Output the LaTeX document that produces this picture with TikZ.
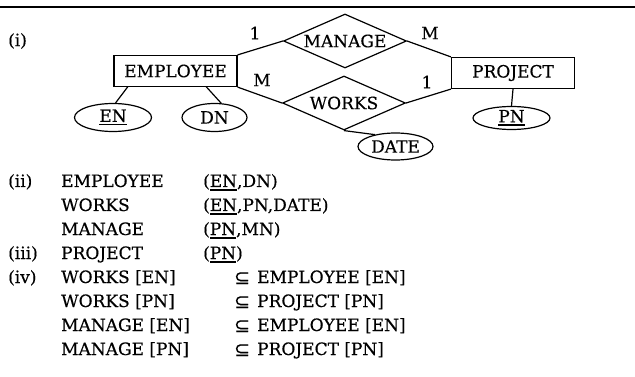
\documentclass[tikz,border=0pt]{standalone}
\usepackage{fontspec}
\setmainfont{DejaVu Serif}[FakeBold=0.4]
\newfontfamily\symf{DejaVu Sans}[FakeBold=0.4]
\usetikzlibrary{shapes.geometric}
\newcommand\uln[1]{\setbox0\hbox{#1}\hbox{\rlap{\rule[-3.6pt]{\wd0}{1.8pt}}\box0}}
\begin{document}
\begin{tikzpicture}[x=1pt,y=-1pt,
  every node/.style={font=\fontsize{17}{20}\selectfont, inner sep=0pt},
  ent/.style={draw, line width=1.2pt, minimum width=123pt, minimum height=31pt},
  rel/.style={draw, diamond, aspect=2.3, line width=1.2pt, minimum width=123pt, minimum height=54pt},
  attr/.style={draw, ellipse, line width=1.2pt, minimum height=28pt},
  conn/.style={line width=1.2pt},
  txt/.style={anchor=base west},
  subs/.style={anchor=base west, font=\fontsize{19}{20}\symf}]
\useasboundingbox (0,0) rectangle (635,377);
\draw[line width=2.4pt] (0,7) -- (635,7);
\node[anchor=west] (li) at (8,41) {(i)};
% entities
\node[ent] (emp) at (175.5,71) {EMPLOYEE};
\node[ent] (proj) at (513,73) {PROJECT};
% relationships
\node[rel] (manage) at (345,41) {MANAGE};
\node[rel] (works) at (344,103) {WORKS};
% attributes
\node[attr, minimum width=77pt] (en) at (113,117.5) {\uln{EN}};
\node[attr, minimum width=65pt] (dn) at (214.5,117.5) {DN};
\node[attr, minimum width=77pt, minimum height=23pt] (pn) at (511.5,118) {\uln{PN}};
\node[attr, minimum width=75pt, minimum height=27pt] (date) at (395.5,146.5) {DATE};
% cardinalities
\node (c1) at (255,33) {1};
\node (c2) at (430,33) {M};
\node (c3) at (262,80) {M};
\node (c4) at (427,82) {1};
% connectors
\draw[conn] (emp.north east) -- (manage.west);
\draw[conn] (manage.east) -- (proj.north west);
\draw[conn] (emp.south east) -- (works.west);
\draw[conn] (works.east) -- (proj.south west);
\draw[conn] (works.south) -- (date.150);
\coordinate (e1) at (128,86.5);
\coordinate (e2) at (206,86.5);
\draw[conn] (e1) -- (en.80);
\draw[conn] (e2) -- (dn.65);
\draw[conn] (proj.south) -- (pn.north);
% relational schema
\node[txt] (r1a) at (8,187) {(ii)};
\node[txt] (r1b) at (61,187) {EMPLOYEE};
\node[txt] (r1c) at (203,187) {(\uln{EN},DN)};
\node[txt] (r2b) at (61,211) {WORKS};
\node[txt] (r2c) at (203,211) {(\uln{EN},PN,DATE)};
\node[txt] (r3b) at (61,235) {MANAGE};
\node[txt] (r3c) at (203,235) {(\uln{PN},MN)};
\node[txt] (r4a) at (8,259) {(iii)};
\node[txt] (r4b) at (61,259) {PROJECT};
\node[txt] (r4c) at (203,259) {(\uln{PN})};
\node[txt] (r5a) at (8,283) {(iv)};
\node[txt] (r5b) at (61,283) {WORKS [EN]};
\node[subs] (r5s) at (234,284) {⊆};
\node[txt] (r5c) at (257,283) {EMPLOYEE [EN]};
\node[txt] (r6b) at (61,307) {WORKS [PN]};
\node[subs] (r6s) at (234,308) {⊆};
\node[txt] (r6c) at (257,307) {PROJECT [PN]};
\node[txt] (r7b) at (61,331) {MANAGE [EN]};
\node[subs] (r7s) at (234,332) {⊆};
\node[txt] (r7c) at (257,331) {EMPLOYEE [EN]};
\node[txt] (r8b) at (61,355) {MANAGE [PN]};
\node[subs] (r8s) at (234,356) {⊆};
\node[txt] (r8c) at (257,355) {PROJECT [PN]};
\end{tikzpicture}
\end{document}
